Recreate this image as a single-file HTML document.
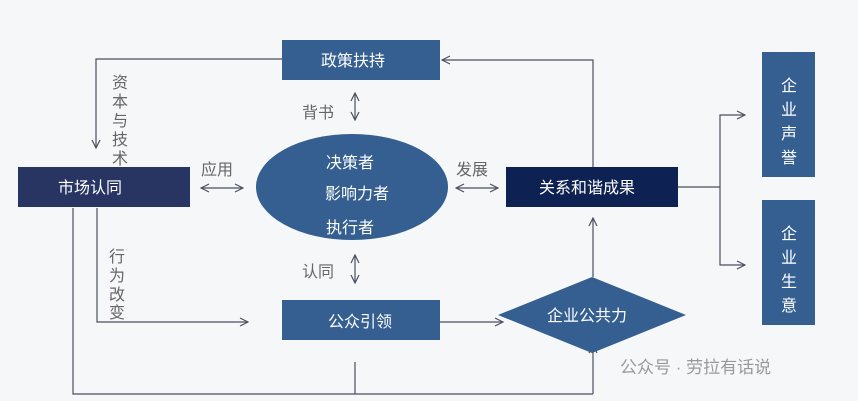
<!DOCTYPE html>
<html><head><meta charset="utf-8"><style>
body{margin:0;background:#f6f7f9;}
svg{display:block}
text{font-family:"Liberation Sans","Noto Sans CJK SC",sans-serif;}
</style></head><body>
<svg width="858" height="401" viewBox="0 0 858 401" xmlns="http://www.w3.org/2000/svg">
<defs>
<marker id="a" viewBox="0 0 10 10" refX="9" refY="5" markerWidth="10" markerHeight="10" orient="auto-start-reverse" markerUnits="userSpaceOnUse"><path d="M1,1 L9,5 L1,9" fill="none" stroke="#4a5060" stroke-width="1.2"/></marker>
</defs>
<rect width="858" height="401" fill="#f6f7f9"/>
<g stroke="#4a5060" stroke-width="1.2" fill="none">
<polyline points="282,59 96,59 96,148" marker-end="url(#a)"/>
<line x1="201" y1="188" x2="243" y2="188" marker-start="url(#a)" marker-end="url(#a)"/>
<line x1="355" y1="93" x2="355" y2="120" marker-start="url(#a)" marker-end="url(#a)"/>
<line x1="355" y1="255" x2="355" y2="283" marker-start="url(#a)" marker-end="url(#a)"/>
<polyline points="97,208 97,322 248,322" marker-end="url(#a)"/>
<polyline points="73,208 73,394 593,394"/>
<line x1="355" y1="362" x2="355" y2="394"/>
<line x1="593" y1="394" x2="593" y2="345" marker-end="url(#a)"/>
<line x1="440" y1="322" x2="503" y2="322" marker-end="url(#a)"/>
<line x1="593" y1="277" x2="593" y2="218" marker-end="url(#a)"/>
<line x1="456" y1="188" x2="498" y2="188" marker-start="url(#a)" marker-end="url(#a)"/>
<polyline points="593,167 593,60 442,60" marker-end="url(#a)"/>
<polyline points="678,187 720,187"/>
<polyline points="745,115 720,115 720,265 745,265" marker-start="url(#a)" marker-end="url(#a)"/>
</g>
<rect x="282" y="40" width="158" height="40" fill="#345f90"/>
<rect x="18" y="167" width="172" height="40" fill="#283562"/>
<ellipse cx="352" cy="187" rx="96" ry="53" fill="#345f90"/>
<rect x="282" y="300" width="158" height="40" fill="#345f90"/>
<polygon points="592,277 686,315 592,353 498,315" fill="#345f90"/>
<rect x="506" y="167" width="172" height="40" fill="#0e2153"/>
<rect x="762" y="52" width="53" height="125" fill="#345f90"/>
<rect x="762" y="200" width="53" height="125" fill="#345f90"/>
<g fill="#fff" font-size="16" text-anchor="middle">
<text x="353" y="66">政策扶持</text>
<text x="90" y="193">市场认同</text>
<text x="350" y="168">决策者</text>
<text x="357" y="199">影响力者</text>
<text x="350" y="233">执行者</text>
<text x="360" y="327">公众引领</text>
<text x="587" y="321">企业公共力</text>
<text x="587" y="193">关系和谐成果</text>
<text x="789" y="91">企</text><text x="789" y="115">业</text><text x="789" y="139">声</text><text x="789" y="163">誉</text>
<text x="789" y="239">企</text><text x="789" y="263">业</text><text x="789" y="287">生</text><text x="789" y="311">意</text>
</g>
<g fill="#666" font-size="16" text-anchor="middle">
<text x="318" y="118">背书</text>
<text x="217" y="175">应用</text>
<text x="472" y="175">发展</text>
<text x="318" y="277">认同</text>
<text x="120" y="88">资</text><text x="120" y="107">本</text><text x="120" y="126">与</text><text x="120" y="145">技</text><text x="120" y="164">术</text>
<text x="117" y="262">行</text><text x="117" y="281">为</text><text x="117" y="300">改</text><text x="117" y="318">变</text>
</g>
<text x="620" y="373" font-size="17" fill="#999">公众号 · 劳拉有话说</text>
</svg>
</body></html>
